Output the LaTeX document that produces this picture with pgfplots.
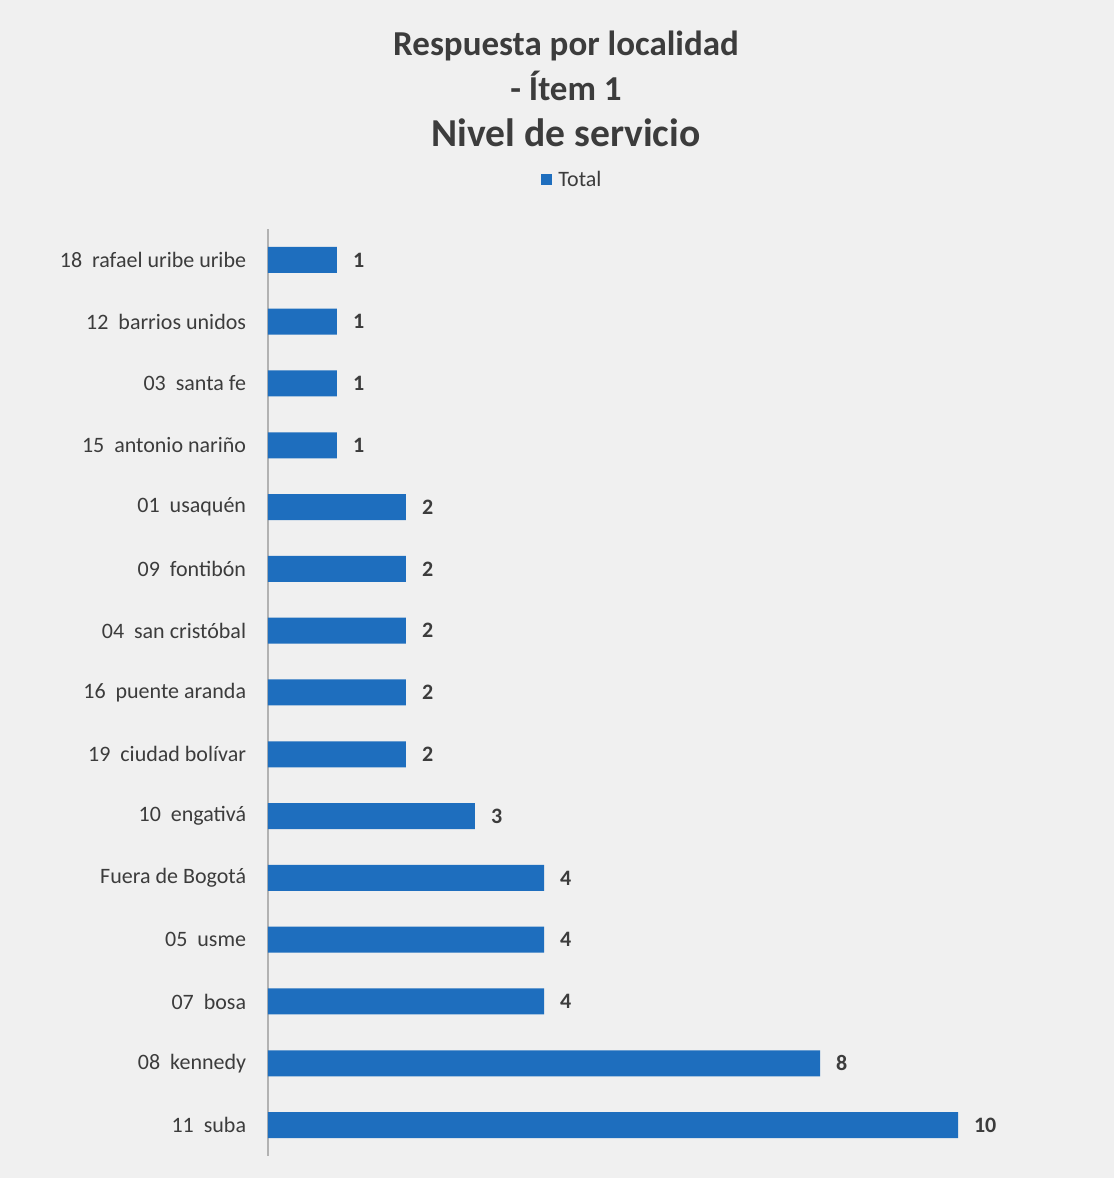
\documentclass[border=0pt]{standalone}
\usepackage{pgfplots}
\pgfplotsset{compat=1.18}
\usepackage{fontspec}
\setmainfont{Carlito}
\definecolor{barblue}{RGB}{30,110,190}
\definecolor{bg}{RGB}{240,240,240}
\definecolor{txt}{RGB}{60,60,60}
\begin{document}
\begin{tikzpicture}
\fill[bg] (-134pt,-11pt) rectangle (423pt,578pt);
\useasboundingbox (-134pt,-11pt) rectangle (423pt,578pt);
\begin{axis}[
  at={(0,0)}, anchor=south west,
  scale only axis, width=414pt, height=463.5pt,
  xbar, bar width=13pt,
  xmin=0, xmax=12, ymin=-0.5, ymax=14.5,
  axis x line=none,
  axis y line*=left,
  y axis line style={draw=gray!60, line width=0.6pt},
  ytick={0,...,14}, ytick style={draw=none},
  yticklabels={11\ \ suba, 08\ \ kennedy, 07\ \ bosa, 05\ \ usme, Fuera de Bogotá, 10\ \ engativá, 19\ \ ciudad bolívar, 16\ \ puente aranda, 04\ \ san cristóbal, 09\ \ fontibón, 01\ \ usaquén, 15\ \ antonio nariño, 03\ \ santa fe, 12\ \ barrios unidos, 18\ \ rafael uribe uribe},
  yticklabel style={font=\fontsize{11}{13}\selectfont, text=txt, inner sep=0pt, xshift=-6.5pt},
  /pgf/number format/assume math mode=true,
  nodes near coords,
  nodes near coords style={font=\bfseries\fontsize{11}{13}\selectfont, text=txt, xshift=4.5pt},
  clip=false,
]
\addplot[fill=barblue, draw=none] coordinates {
(10,0) (8,1) (4,2) (4,3) (4,4) (3,5) (2,6) (2,7) (2,8) (2,9) (2,10) (1,11) (1,12) (1,13) (1,14)};
\end{axis}
\node[font=\bfseries\fontsize{17.5}{20}\selectfont, text=txt] at (149pt,555pt) {Respuesta por localidad};
\node[font=\bfseries\fontsize{17.5}{20}\selectfont, text=txt] at (149pt,535pt) {- Ítem 1};
\node[font=\bfseries\fontsize{19.8}{22}\selectfont, text=txt] at (149pt,511.5pt) {Nivel de servicio};
\node[font=\fontsize{11}{13}\selectfont, text=txt, anchor=west, inner sep=0pt] at (145pt,488.5pt) {Total};
\fill[barblue] (136.5pt,485.5pt) rectangle (142pt,491pt);
\end{tikzpicture}
\end{document}
